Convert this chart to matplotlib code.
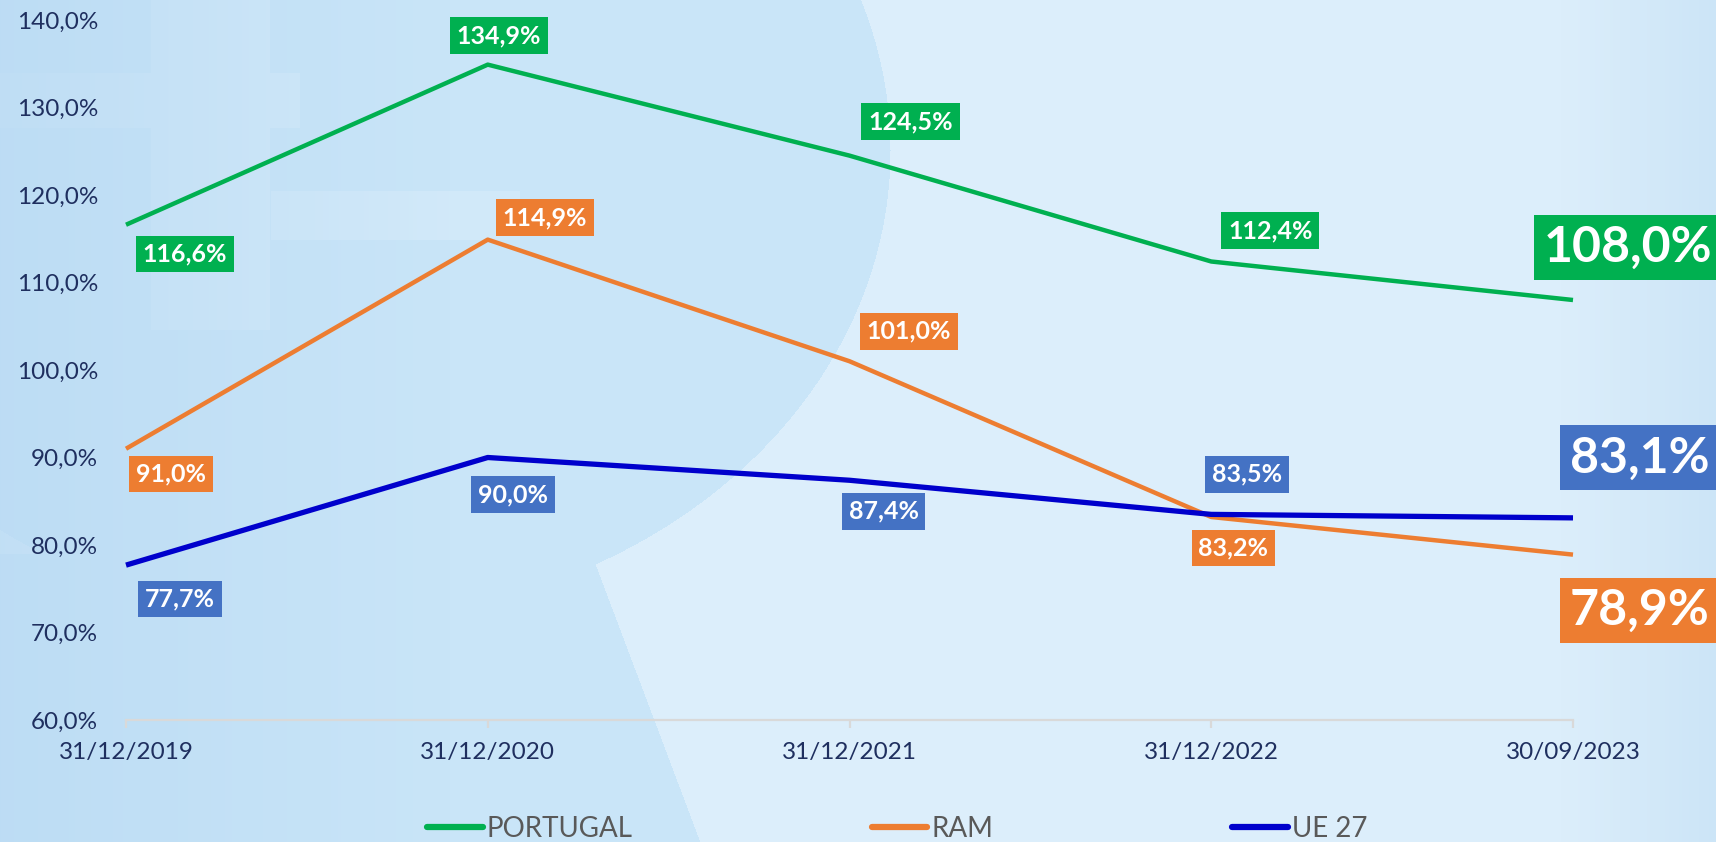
import numpy as np
import matplotlib.pyplot as plt
from matplotlib.lines import Line2D

# ---------------- data ----------------
categories = ["31/12/2019", "31/12/2020", "31/12/2021", "31/12/2022", "30/09/2023"]
portugal = [116.6, 134.9, 124.5, 112.4, 108.0]
ram = [91.0, 114.9, 101.0, 83.2, 78.9]
ue27 = [77.7, 90.0, 87.4, 83.5, 83.1]
series_names = ["PORTUGAL", "RAM", "UE 27"]
yticks = [60, 70, 80, 90, 100, 110, 120, 130, 140]

# ---------------- style ----------------
W, H = 1716, 842
line_colors = ["#00B050", "#ED7D31", "#0000CC"]
box_colors = ["#00B050", "#ED7D31", "#4472C4"]
line_widths = [3.2, 3.2, 3.8]
tick_color = "#1F2F5F"
FONT = "Lato"

# label offsets in pixels (dx, dy downward) relative to each point
offsets = [
    [(59, 29), (11, -29), (61, -34), (59, -31), (55, -53)],
    [(45, 25), (57, -22), (59, -30), (22, 31), (67, 56)],
    [(54, 34), (25, 37), (34, 31), (36, -40), (67, -60)],
]

fig = plt.figure(figsize=(W / 100, H / 100), dpi=100)

# ---------------- background ----------------
yy, xx = np.mgrid[0:H, 0:W].astype(float)
light = np.array([0xDC, 0xEE, 0xFB]) / 255.0
mid = np.array([0xC9, 0xE5, 0xF8]) / 255.0
dark = np.array([0xB9, 0xDA, 0xF3]) / 255.0
img = np.ones((H, W, 3)) * light
ell = ((xx - 330) / 560) ** 2 + ((yy - 150) / 470) ** 2 <= 1.0
diag = (yy > 553) & (xx < 591 + (yy - 553) * (109 / 289))
shape = ell | diag
img[shape] = mid
# lighter cross of the faded logo
cross = ((yy > 72) & (yy < 128) & (xx < 300)) | ((xx > 150) & (xx < 270) & (yy < 330)) \
    | ((yy > 190) & (yy < 240) & (xx > 270) & (xx < 520))
img[cross & shape] = img[cross & shape] * 0.55 + light * 0.45
# left edge and right edge darkening
wl = np.clip(1 - xx / 450.0, 0, 1)[..., None] * 0.75
img = img * (1 - wl) + dark * wl
wr = np.clip((xx - 1560) / 156.0, 0, 1)[..., None] * 0.45
img = img * (1 - wr) + dark * wr
bg = fig.add_axes([0, 0, 1, 1])
bg.imshow(img, extent=[0, 1, 0, 1], aspect="auto", zorder=0, interpolation="bilinear")
bg.axis("off")

# ---------------- chart ----------------
x0, x1, y60, y140 = 126, 1573, 720, 20
ax = fig.add_axes([x0 / W, 1 - y60 / H, (x1 - x0) / W, (y60 - y140) / H])
ax.patch.set_alpha(0)
xs = np.arange(len(categories))
all_series = [portugal, ram, ue27]
for s, (vals, name) in enumerate(zip(all_series, series_names)):
    ax.plot(xs, vals, color=line_colors[s], lw=line_widths[s], solid_joinstyle="round",
            solid_capstyle="butt", clip_on=False, zorder=3)
    for i, v in enumerate(vals):
        dx, dy = offsets[s][i]
        big = i == len(vals) - 1
        fs = 36 if big else 18
        pad = 0.2 if big else 0.27
        txt = f"{v:.1f}".replace(".", ",") + "%"
        ax.annotate(txt, xy=(i, v), xytext=(dx, -dy), textcoords="offset pixels",
                    ha="center", va="center", fontsize=fs, fontweight="bold", color="white",
                    family=FONT, zorder=5, annotation_clip=False,
                    bbox=dict(boxstyle=f"square,pad={pad}", fc=box_colors[s], ec="none"))

ax.set_xlim(0, len(categories) - 1)
ax.set_ylim(60, 140)
ax.set_yticks(yticks)
ax.set_yticklabels([f"{t:.1f}".replace(".", ",") + "%" for t in yticks])
ax.set_xticks(xs)
ax.set_xticklabels(categories)
for sp in ["top", "right", "left"]:
    ax.spines[sp].set_visible(False)
ax.spines["bottom"].set_color("#D9D9D9")
ax.spines["bottom"].set_linewidth(1.6)
ax.tick_params(axis="y", length=0, pad=20, labelsize=17.5, labelcolor=tick_color)
ax.tick_params(axis="x", length=6, width=1.6, color="#D9D9D9", pad=10, labelsize=17.5,
               labelcolor=tick_color, direction="out")
for lab in ax.get_xticklabels() + ax.get_yticklabels():
    lab.set_family(FONT)

handles = [Line2D([0], [0], color=c, lw=4.5, solid_capstyle="round") for c in line_colors]
leg = fig.legend(handles, series_names, loc="center left", bbox_to_anchor=(427 / W, 1 - 829 / H),
                 ncol=3, frameon=False, handlelength=2.0, handletextpad=0.15, columnspacing=8.6,
                 borderpad=0, borderaxespad=0, prop={"family": FONT, "size": 20})
for t in leg.get_texts():
    t.set_color("#595959")

fig.savefig("out.png", dpi=100)
